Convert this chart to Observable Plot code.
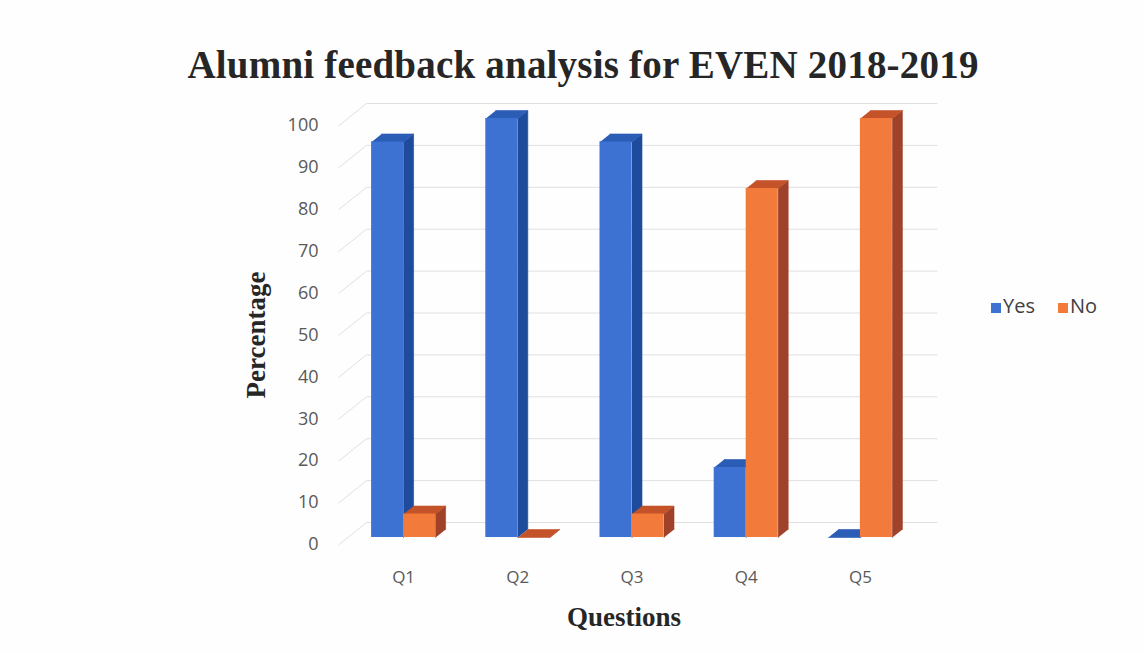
<!DOCTYPE html>
<html>
<head>
<meta charset="utf-8">
<script src="https://cdn.jsdelivr.net/npm/d3@7"></script>
<script src="https://cdn.jsdelivr.net/npm/@observablehq/plot@0.6"></script>
<style>
  html, body { margin: 0; padding: 0; background: #ffffff; }
  #wrap { position: relative; width: 1144px; height: 653px; overflow: hidden; background: #fefefe; }
  #title { position: absolute; left: 0; top: 0; width: 1144px; height: 100px;
           font-family: "Liberation Serif", serif; font-weight: bold; font-size: 39px;
           line-height: 1; color: #262626; }
  #title span { position: absolute; left: 583px; top: 45px; transform: translateX(-50%); white-space: nowrap; letter-spacing: 0.2px; }
  #chart { position: absolute; left: 0; top: 100px; }
  #legend { position: absolute; left: 0; top: 0; font-family: "Open Sans", sans-serif; font-size: 20px; color: #404040; white-space: nowrap; }
  #legend .sw { position: absolute; width: 10px; height: 10px; top: 303px; }
  #legend .lab { position: absolute; top: 293px; line-height: 1.3; }
</style>
</head>
<body>
<div id="wrap">
  <div id="title"><span>Alumni feedback analysis for EVEN 2018-2019</span></div>
  <div id="chart"></div>
  <div id="legend"></div>
</div>
<script>
// ---- data ----
const categories = ["Q1", "Q2", "Q3", "Q4", "Q5"];
const seriesNames = ["Yes", "No"];
const yesValues = [94.4, 100, 94.4, 16.7, 0];
const noValues = [5.6, 0, 5.6, 83.3, 100];
const yTicks = [0, 10, 20, 30, 40, 50, 60, 70, 80, 90, 100];

// ---- styling / geometry ----
const colors = {
  Yes: {front: "#3d72d3", side: "#1e4b9c", top: "#2b5cb6"},
  No:  {front: "#f27a3a", side: "#9f4229", top: "#c4532a"}
};
const H = 553, marginTop = 18, marginBottom = 116;
const marginLeft = 346, marginRight = 227;
const pxY = 100 / (H - marginTop - marginBottom);   // data units per pixel (y)
const pxX = 5 / (1144 - marginLeft - marginRight);   // data units per pixel (x)
const barW = 32 * pxX;
const depthX = 10 * pxX, depthY = 8 * pxY;

const seriesValues = {Yes: yesValues, No: noValues};
const offsets = {Yes: [-barW, 0], No: [0, barW]};

function faces(name) {
  const vals = seriesValues[name];
  const fronts = [], sides = [], tops = [];
  vals.forEach((v, i) => {
    const x0 = i + offsets[name][0], x1 = i + offsets[name][1];
    const id = name + i;
    fronts.push({x1: x0, x2: x1, y1: 0, y2: v});
    sides.push({id, x: x1, y: 0}, {id, x: x1, y: v}, {id, x: x1 + depthX, y: v + depthY}, {id, x: x1 + depthX, y: depthY});
    tops.push({id, x: x0, y: v}, {id, x: x1, y: v}, {id, x: x1 + depthX, y: v + depthY}, {id, x: x0 + depthX, y: v + depthY});
  });
  return {fronts, sides, tops};
}

const marks = [];
// back wall gridlines and side-wall diagonals
const backOff = 15 * pxY, frontOff = -7.5 * pxY;
const gx0 = -0.5 + 20 * pxX, gx1 = 4.5 + 20 * pxX;
marks.push(Plot.link(yTicks, {x1: gx0, x2: gx1, y1: d => d + backOff, y2: d => d + backOff, stroke: "#e0e0e0", strokeWidth: 1}));
marks.push(Plot.link(yTicks, {x1: -0.5 - 8 * pxX, x2: gx0, y1: d => d + frontOff, y2: d => d + backOff, stroke: "#e0e0e0", strokeWidth: 1}));

for (const name of seriesNames) {
  const f = faces(name);
  const c = colors[name];
  marks.push(Plot.line(f.sides, {x: "x", y: "y", z: "id", fill: c.side, stroke: c.side, strokeWidth: 0.6}));
  marks.push(Plot.line(f.tops, {x: "x", y: "y", z: "id", fill: c.top, stroke: c.top, strokeWidth: 0.6}));
  marks.push(Plot.rect(f.fronts, {x1: "x1", x2: "x2", y1: "y1", y2: "y2", fill: c.front}));
}

marks.push(Plot.axisY(yTicks, {tickSize: 0, tickPadding: 28, dy: 7, fontSize: 18, label: null}));
marks.push(Plot.axisX([0, 1, 2, 3, 4], {tickSize: 0, tickPadding: 33, tickFormat: i => categories[i], fontSize: 17, label: null}));
marks.push(Plot.text(["Percentage"], {frameAnchor: "left", textAnchor: "middle", rotate: -90, dx: -90, dy: 7, fontFamily: "Liberation Serif", fontWeight: "bold", fontSize: 27, fill: "#262626"}));
marks.push(Plot.text(["Questions"], {frameAnchor: "bottom", dx: -8, dy: 88, fontFamily: "Liberation Serif", fontWeight: "bold", fontSize: 27, fill: "#262626"}));

const chart = Plot.plot({
  width: 1144,
  height: H,
  marginTop, marginBottom, marginLeft, marginRight,
  x: {type: "linear", domain: [-0.5, 4.5], axis: null},
  y: {type: "linear", domain: [0, 100], axis: null},
  style: {fontFamily: "Open Sans, sans-serif", fontSize: "17px", color: "#595959", background: "transparent", overflow: "visible"},
  marks
});
document.getElementById("chart").appendChild(chart);

const legend = document.getElementById("legend");
const legendX = {Yes: 991, No: 1058};
seriesNames.forEach(n => {
  const sw = document.createElement("span");
  sw.className = "sw";
  sw.style.left = legendX[n] + "px";
  sw.style.background = colors[n].front;
  const lab = document.createElement("span");
  lab.className = "lab";
  lab.style.left = (legendX[n] + 12) + "px";
  lab.textContent = n;
  legend.appendChild(sw);
  legend.appendChild(lab);
});
</script>
</body>
</html>
